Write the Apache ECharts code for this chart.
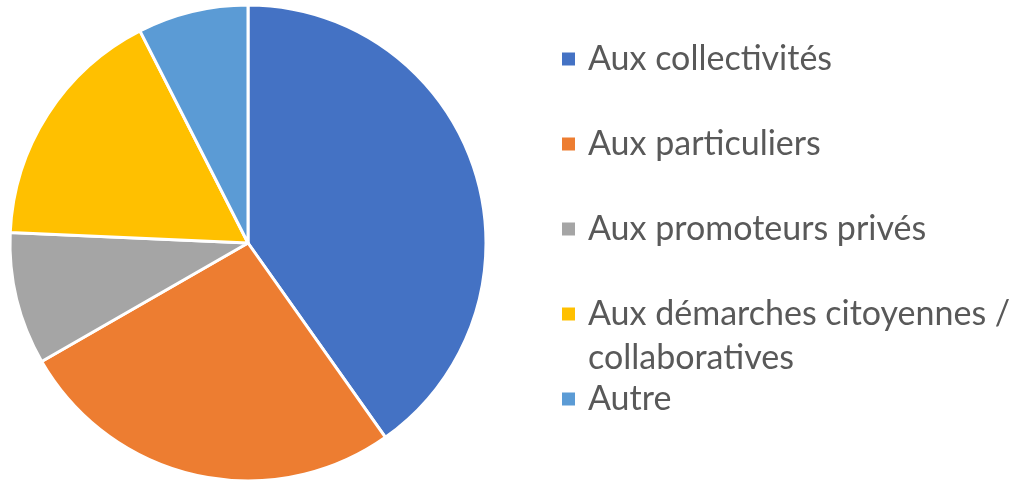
<!DOCTYPE html>
<html>
<head>
<meta charset="utf-8">
<script src="https://cdn.jsdelivr.net/npm/echarts@6/dist/echarts.min.js"></script>
<style>
  html, body { margin: 0; padding: 0; background: #fff; }
  #chart { width: 1023px; height: 484px; }
</style>
</head>
<body>
<div id="chart"></div>
<script>
// categories and shares (%)
var categories = ['Aux collectivités', 'Aux particuliers', 'Aux promoteurs privés', 'Aux démarches citoyennes /', 'Autre'];
var values = [40.2, 26.5, 9.0, 16.8, 7.5];
var colors = ['#4472C4', '#ED7D31', '#A5A5A5', '#FFC000', '#5B9BD5'];

var myChart = echarts.init(document.getElementById('chart'));

var pieData = categories.map(function (name, i) {
    return { name: name, value: values[i], itemStyle: { color: colors[i] } };
});

var option = {
    animation: false,
    legend: {
        orient: 'vertical',
        left: 555,
        top: 34,
        itemWidth: 15,
        itemHeight: 15,
        itemGap: 45,
        icon: 'rect',
        selectedMode: false,
        textStyle: {
            fontFamily: 'Lato',
            fontSize: 34,
            lineHeight: 40,
            color: '#595959',
            padding: [0, 0, 0, 7]
        },
        data: categories
    },
    graphic: [{
        type: 'text',
        left: 588,
        top: 341,
        style: {
            text: 'collaboratives',
            fontFamily: 'Lato',
            fontSize: 34,
            fill: '#595959'
        }
    }],
    series: [{
        type: 'pie',
        center: [248, 243],
        radius: 238,
        startAngle: 90,
        clockwise: true,
        label: { show: false },
        labelLine: { show: false },
        emphasis: { disabled: true },
        itemStyle: { borderColor: '#fff', borderWidth: 3 },
        data: pieData
    }]
};

myChart.setOption(option);
</script>
</body>
</html>
